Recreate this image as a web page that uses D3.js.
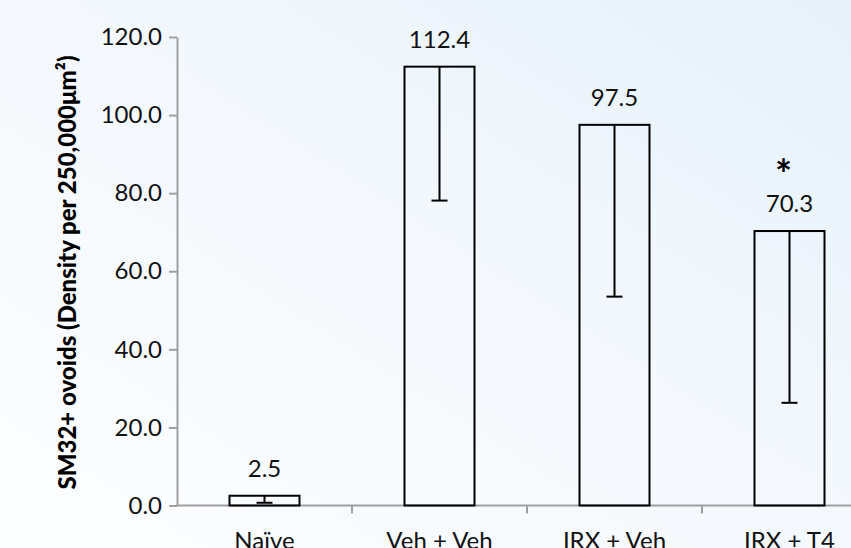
<!DOCTYPE html>
<html>
<head>
<meta charset="utf-8">
<script src="https://cdn.jsdelivr.net/npm/d3@7"></script>
<style>
  html, body { margin: 0; padding: 0; overflow: hidden; }
  svg { display: block; font-family: Lato, "Open Sans", sans-serif; }
</style>
</head>
<body>
<svg id="chart" width="851" height="548"></svg>
<script>
// data
const groups = ["Naïve", "Veh + Veh", "IRX + Veh", "IRX + T4"];
const means = [2.5, 112.4, 97.5, 70.3];
const lowerErr = [0.7, 78.1, 53.5, 26.3];   // bottom of the error bar
const stars = ["", "", "", "*"];
const yTicks = [0, 20, 40, 60, 80, 100, 120];
const yTitle = "SM32+ ovoids (Density per 250,000μm²)";

const svg = d3.select("#chart");
const width = +svg.attr("width"), height = +svg.attr("height");

// soft blue slide background
const defs = svg.append("defs");
const grad = defs.append("linearGradient")
    .attr("id", "bg").attr("x1", "100%").attr("y1", "0%").attr("x2", "0%").attr("y2", "100%");
grad.append("stop").attr("offset", "0%").attr("stop-color", "#e6f1fb");
grad.append("stop").attr("offset", "45%").attr("stop-color", "#f3f8fd");
grad.append("stop").attr("offset", "100%").attr("stop-color", "#fdfeff");
svg.append("rect").attr("width", width).attr("height", height).attr("fill", "url(#bg)");

const x = d3.scaleBand()
    .domain(groups)
    .range([177, 877])
    .paddingInner(0.6)
    .paddingOuter(0.3);

const y = d3.scaleLinear()
    .domain([0, 120])
    .range([505.5, 37]);

const fs = "24px";

// y axis
const yAxis = svg.append("g")
    .attr("transform", "translate(177,0)")
    .call(d3.axisLeft(y).tickValues(yTicks).tickFormat(d3.format(".1f")).tickSize(8).tickSizeOuter(0).tickPadding(7));
yAxis.select(".domain").attr("stroke", "#a0a0a0").attr("stroke-width", 2);
yAxis.selectAll(".tick line").attr("stroke", "#a0a0a0").attr("stroke-width", 2);
yAxis.selectAll(".tick text").attr("fill", "#111").style("font-size", fs).style("font-family", "Lato, sans-serif");

// x axis - ticks sit on the band boundaries
const xAxisG = svg.append("g").attr("transform", "translate(0,505.5)");
xAxisG.append("line")
    .attr("x1", 177).attr("x2", width)
    .attr("stroke", "#a0a0a0").attr("stroke-width", 2);
xAxisG.selectAll("line.tk")
  .data(groups.slice(1))
  .enter().append("line")
    .attr("class", "tk")
    .attr("x1", d => x(d) - x.step() * x.paddingInner() / 2)
    .attr("x2", d => x(d) - x.step() * x.paddingInner() / 2)
    .attr("y1", 0).attr("y2", 8)
    .attr("stroke", "#a0a0a0").attr("stroke-width", 2);
xAxisG.selectAll("text")
  .data(groups)
  .enter().append("text")
    .attr("x", d => x(d) + x.bandwidth() / 2)
    .attr("y", 43)
    .attr("text-anchor", "middle")
    .attr("fill", "#111")
    .style("font-size", fs)
    .text(d => d);

// bars
svg.append("g").selectAll("rect")
  .data(groups)
  .enter().append("rect")
    .attr("x", d => x(d))
    .attr("y", (d, i) => y(means[i]))
    .attr("width", x.bandwidth())
    .attr("height", (d, i) => y(0) - y(means[i]))
    .attr("fill", "none")
    .attr("stroke", "#000")
    .attr("stroke-width", 2);

// minus error bars
const err = svg.append("g").attr("stroke", "#000").attr("stroke-width", 2);
groups.forEach((g, i) => {
  const cx = x(g) + x.bandwidth() / 2;
  err.append("line").attr("x1", cx).attr("x2", cx).attr("y1", y(means[i])).attr("y2", y(lowerErr[i]));
  err.append("line").attr("x1", cx - 8).attr("x2", cx + 8).attr("y1", y(lowerErr[i])).attr("y2", y(lowerErr[i]));
});

// value labels
svg.append("g").selectAll("text")
  .data(groups)
  .enter().append("text")
    .attr("x", d => x(d) + x.bandwidth() / 2)
    .attr("y", (d, i) => y(means[i]) - 19)
    .attr("text-anchor", "middle")
    .attr("fill", "#111")
    .style("font-size", fs)
    .text((d, i) => means[i].toFixed(1));

// significance marks
svg.append("g").selectAll("text")
  .data(groups)
  .enter().append("text")
    .attr("x", d => x(d) + x.bandwidth() / 2 - 6)
    .attr("y", (d, i) => y(means[i]) - 42)
    .attr("text-anchor", "middle")
    .attr("fill", "#000")
    .style("font-size", "40px")
    .style("font-weight", "bold")
    .text((d, i) => stars[i]);

// y title
svg.append("text")
    .attr("transform", "translate(76,272.5) rotate(-90)")
    .attr("text-anchor", "middle")
    .attr("fill", "#000")
    .style("font-size", "24px")
    .style("font-weight", "900")
    .text(yTitle);
</script>
</body>
</html>
